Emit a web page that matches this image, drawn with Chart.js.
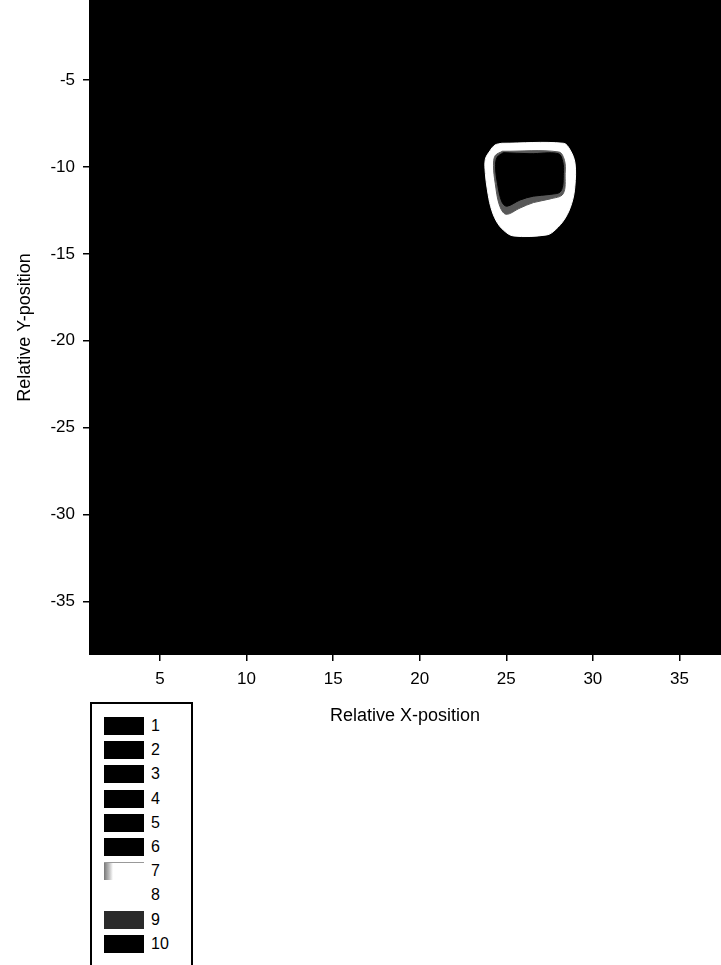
<!DOCTYPE html>
<html>
<head>
<meta charset="utf-8">
<script src="https://cdn.jsdelivr.net/npm/chart.js@4.4.1/dist/chart.umd.min.js"></script>
<style>
  html, body { margin: 0; padding: 0; background: #fff; }
  body { width: 721px; height: 965px; position: relative; overflow: hidden; font-family: "Liberation Sans", Arial, sans-serif; }
  #wrap { position: absolute; left: 0; top: 0; width: 721px; height: 740px; }
  #legendBox { position: absolute; left: 90px; top: 702px; width: 99px; height: 280px; border: 2px solid #000; background: #fff; }
  .item { position: absolute; left: 12px; height: 18px; }
  .sw { position: absolute; left: 0; top: 0; width: 40px; height: 18px; box-sizing: border-box; }
  .lab { position: absolute; left: 47px; top: -1px; font-size: 16px; line-height: 20px; color: #000; }
</style>
</head>
<body>
<div id="wrap"><canvas id="mapChart" width="721" height="740"></canvas></div>
<div id="legendBox"></div>
<script>
// axis ranges (relative positions)
const xRange = [0.9, 37.4];
const yRange = [-38.07, -0.4];
const xTicks = [5, 10, 15, 20, 25, 30, 35];
const yTicks = [-5, -10, -15, -20, -25, -30, -35];

// outer boundary of the bright ring (class 7/8)
const outerX = [24.74, 28.30, 28.69, 28.97, 28.96, 28.78, 28.40, 27.82, 27.34, 25.41, 24.83, 24.41, 24.10, 23.91, 23.79, 23.79, 24.06, 24.35];
const outerY = [-8.64, -8.64, -9.03, -9.79, -11.13, -12.09, -12.95, -13.63, -13.91, -13.97, -13.63, -13.09, -12.29, -11.33, -10.37, -9.56, -9.07, -8.74];

// speckled transition zone (class 9)
const midX = [24.78, 28.03, 28.36, 28.40, 28.28, 27.53, 26.57, 25.80, 24.98, 24.60, 24.36, 24.26, 24.36];
const midY = [-9.10, -9.14, -9.62, -10.37, -11.55, -11.84, -12.05, -12.36, -12.72, -12.19, -10.94, -9.93, -9.35];

// dark interior (class 10)
const innerX = [24.83, 26.37, 28.01, 28.26, 28.30, 28.15, 27.53, 26.57, 25.80, 25.03, 24.74, 24.49, 24.38, 24.47];
const innerY = [-9.18, -9.24, -9.24, -9.70, -10.37, -11.40, -11.58, -11.68, -11.90, -12.26, -12.00, -10.94, -9.99, -9.45];

// legend classes
const legendLabels = ['1', '2', '3', '4', '5', '6', '7', '8', '9', '10'];
const legendColors = ['#000', '#000', '#000', '#000', '#000', '#000', '#fff', '#fff', '#2a2a2a', '#000'];

// Function to turn x/y lists into a closed outline
function outline(xs, ys) {
    const pts = xs.map((x, i) => ({ x: x, y: ys[i] }));
    pts.push({ x: xs[0], y: ys[0] });
    return pts;
}

// Function to build one filled region
function region(label, xs, ys, color, order) {
    return {
        label: label,
        data: outline(xs, ys),
        showLine: true,
        fill: 'shape',
        backgroundColor: color,
        borderColor: color,
        borderWidth: 1,
        pointRadius: 0,
        tension: 0.35,
        order: order
    };
}

// black background of the plot area
const plotBackground = {
    id: 'plotBackground',
    beforeDraw(chart) {
        const { ctx, chartArea } = chart;
        ctx.save();
        ctx.fillStyle = '#000';
        ctx.fillRect(chartArea.left, chartArea.top, chartArea.right - chartArea.left, chartArea.bottom - chartArea.top);
        ctx.restore();
    }
};

const tickFont = { family: '"Liberation Sans", Arial, sans-serif', size: 17 };
const titleFont = { family: '"Liberation Sans", Arial, sans-serif', size: 18 };

function renderChart() {
    const ctx = document.getElementById('mapChart').getContext('2d');
    new Chart(ctx, {
        type: 'scatter',
        data: {
            datasets: [
                region('ring', outerX, outerY, '#ffffff', 3),
                region('transition', midX, midY, '#585858', 2),
                region('interior', innerX, innerY, '#000000', 1)
            ]
        },
        options: {
            responsive: false,
            animation: false,
            layout: { padding: 0 },
            plugins: {
                legend: { display: false },
                tooltip: { enabled: false }
            },
            scales: {
                x: {
                    type: 'linear',
                    min: xRange[0],
                    max: xRange[1],
                    afterBuildTicks: s => { s.ticks = xTicks.map(v => ({ value: v })); },
                    afterFit: s => { s.height = 85; s.paddingLeft = 0; s.paddingRight = 0; },
                    grid: { drawOnChartArea: false, drawTicks: true, tickLength: 6, color: '#000', lineWidth: 1.5 },
                    border: { display: false },
                    ticks: { color: '#000', font: tickFont, padding: 8, maxRotation: 0 },
                    title: { display: true, text: 'Relative X-position', color: '#000', font: titleFont, padding: { top: 4, bottom: 13 } }
                },
                y: {
                    type: 'linear',
                    min: yRange[0],
                    max: yRange[1],
                    afterBuildTicks: s => { s.ticks = yTicks.map(v => ({ value: v })); },
                    afterFit: s => { s.width = 89; s.paddingTop = 0; s.paddingBottom = 0; },
                    grid: { drawOnChartArea: false, drawTicks: true, tickLength: 6, color: '#000', lineWidth: 1.5 },
                    border: { display: false },
                    ticks: { color: '#000', font: tickFont, padding: 8 },
                    title: { display: true, text: 'Relative Y-position', color: '#000', font: titleFont, padding: { top: 14, bottom: 4 } }
                }
            }
        },
        plugins: [plotBackground]
    });
}

// Function to draw the class legend box
function renderLegend() {
    const box = document.getElementById('legendBox');
    legendLabels.forEach((lab, i) => {
        const item = document.createElement('div');
        item.className = 'item';
        item.style.top = (13 + i * 24.2) + 'px';
        const sw = document.createElement('div');
        sw.className = 'sw';
        sw.style.background = legendColors[i];
        if (lab === '7') {
            sw.style.background = 'linear-gradient(to right, #777 0px, #bbb 5px, #fff 9px)';
            sw.style.borderTop = '1px solid #999';
        }
        const t = document.createElement('div');
        t.className = 'lab';
        t.textContent = lab;
        item.appendChild(sw);
        item.appendChild(t);
        box.appendChild(item);
    });
}

renderChart();
renderLegend();
</script>
</body>
</html>
